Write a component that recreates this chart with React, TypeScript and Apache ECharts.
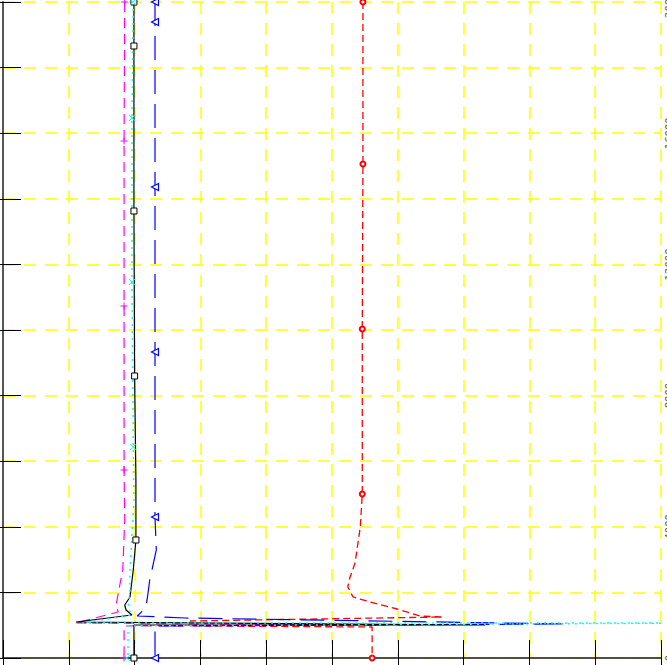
import React, { useEffect, useRef } from "react";
import * as echarts from "echarts";

// Axis ranges (grid units on x, height on y)
const X_MIN = 0;
const X_MAX = 10;
const X_STEP = 1;
const Y_MIN = 0;
const Y_MAX = 20000;
const Y_STEP = 2000;
const Y_LABEL_STEP = 4000;

// Black solid, square markers
const blackX = [1.99, 1.99, 1.99, 2.0, 2.02, 2.02, 1.98, 1.93, 1.85, 1.87, 1.96, 1.11, 7.33, 1.99, 1.99];
const blackY = [20000, 18659, 13628, 8598, 5427, 3598, 2683, 1860, 1616, 1463, 1311, 1098, 1006, 1006, 0];
const blackMarks = [0, 1, 2, 3, 5, 14];

// Cyan dotted, x markers
const cyanX = [1.98, 1.96, 1.96, 1.98, 1.99, 1.93, 1.93, 1.9, 1.96, 1.2, 10.6, 1.9, 1.9, 1.88];
const cyanY = [20000, 16463, 11463, 6433, 4817, 2683, 2073, 1524, 1311, 1067, 1067, 976, 40, 0];
const cyanMarks = [0, 1, 2, 3, 13];

// Magenta dash, + markers
const magentaX = [1.85, 1.84, 1.84, 1.84, 1.85, 1.82, 1.76, 1.72, 1.75, 1.1, 5.7, 1.84, 1.84];
const magentaY = [20000, 15762, 10732, 5732, 4207, 2683, 2073, 1616, 1402, 1067, 1000, 976, 0];
const magentaMarks = [0, 1, 2, 3, 12];

// Blue long dash, triangle markers
const blueX = [2.31, 2.31, 2.31, 2.31, 2.31, 2.33, 2.23, 2.2, 2.17, 2.04, 2.77, 8.54, 2.31, 2.31];
const blueY = [20000, 19390, 14360, 9329, 4299, 3293, 2378, 1921, 1524, 1280, 1220, 1037, 976, 0];
const blueMarks = [0, 1, 2, 3, 4, 13];

// Red dashed, circle markers
const redX = [5.47, 5.47, 5.46, 5.46, 5.43, 5.35, 5.27, 5.24, 5.32, 5.58, 5.99, 6.34, 6.67, 2.84, 2.99, 5.61, 5.61];
const redY = [20000, 15061, 10030, 5000, 3994, 2896, 2439, 2165, 1860, 1707, 1494, 1280, 1250, 1128, 976, 945, 0];
const redMarks = [0, 1, 2, 3, 16];

function buildData(xs: number[], ys: number[], marks: number[]) {
  return xs.map((x, i) =>
    marks.indexOf(i) >= 0 ? { value: [x, ys[i]] } : { value: [x, ys[i]], symbol: "none" }
  );
}

const tickStyle = { show: true, inside: true, length: 18, lineStyle: { color: "#000", width: 1 } };

export default function App() {
  const ref = useRef<HTMLDivElement>(null);
  useEffect(() => {
    if (!ref.current) return;
    const chart = echarts.init(ref.current, undefined, { renderer: "svg" });
    const gridLine = { show: true, lineStyle: { color: "#ffff00", type: [12, 9], width: 1.5 } };
    chart.setOption({
      animation: false,
      backgroundColor: "#ffffff",
      grid: { left: 3, top: 2, width: 658, height: 656, containLabel: false, outerBoundsMode: "none" },
      xAxis: [
        {
          type: "value", min: X_MIN, max: X_MAX, interval: X_STEP, position: "bottom",
          axisLine: { show: true, lineStyle: { color: "#000", width: 1.5 } },
          axisTick: tickStyle, axisLabel: { show: false }, splitLine: gridLine,
        },
        {
          type: "value", min: X_MIN, max: X_MAX, interval: X_STEP, position: "top",
          axisLine: { show: true, lineStyle: { color: "#555", width: 1.5 } },
          axisTick: tickStyle, axisLabel: { show: false }, splitLine: { show: false },
        },
      ],
      yAxis: [
        {
          type: "value", min: Y_MIN, max: Y_MAX, interval: Y_STEP, position: "left",
          axisLine: { show: true, lineStyle: { color: "#555", width: 1.5 } },
          axisTick: tickStyle, axisLabel: { show: false }, splitLine: gridLine,
        },
        {
          type: "value", min: Y_MIN, max: Y_MAX, interval: Y_STEP, position: "right",
          axisLine: { show: true, lineStyle: { color: "#555", width: 2 } },
          axisTick: tickStyle,
          axisLabel: {
            show: true, rotate: 90, margin: 3, fontSize: 10, color: "#555",
            fontFamily: "DejaVu Sans",
            formatter: (v: number) => (v % Y_LABEL_STEP === 0 ? String(v) : ""),
          },
          splitLine: { show: false },
        },
      ],
      series: [
        {
          type: "line", name: "red", data: buildData(redX, redY, redMarks),
          symbol: "emptyCircle", symbolSize: 5,
          lineStyle: { color: "#ff0000", width: 1.3, type: [7, 4] },
          itemStyle: { color: "#ff0000", borderColor: "#ff0000", borderWidth: 1.5 },
        },
        {
          type: "line", name: "magenta", data: buildData(magentaX, magentaY, magentaMarks),
          symbol: "path://M5,0L5,10M0,5L10,5", symbolSize: 7, symbolKeepAspect: true,
          lineStyle: { color: "#ff00ff", width: 1.2, type: [10, 6] },
          itemStyle: { color: "#ff00ff", borderColor: "#ff00ff", borderWidth: 1 },
        },
        {
          type: "line", name: "blue", data: buildData(blueX, blueY, blueMarks),
          symbol: "path://M10,0L0,5L10,10Z", symbolSize: 7, symbolKeepAspect: true,
          lineStyle: { color: "#0000ff", width: 1.2, type: [24, 10] },
          itemStyle: { color: "#ffffff", borderColor: "#0000ff", borderWidth: 1.2 },
        },
        {
          type: "line", name: "black", data: buildData(blackX, blackY, blackMarks),
          symbol: "rect", symbolSize: 6,
          lineStyle: { color: "#000000", width: 1.2 },
          itemStyle: { color: "#ffffff", borderColor: "#000000", borderWidth: 1 },
        },
        {
          type: "line", name: "cyan", data: buildData(cyanX, cyanY, cyanMarks),
          symbol: "path://M0,0L10,10M10,0L0,10", symbolSize: 6, symbolKeepAspect: true,
          lineStyle: { color: "#00ffff", width: 1.5, type: [2, 5] },
          itemStyle: { color: "#00ffff", borderColor: "#00ffff", borderWidth: 1 },
        },
      ],
    });
    return () => chart.dispose();
  }, []);
  return (
    <div
      ref={ref}
      style={{ position: "fixed", left: 0, top: 0, width: 667, height: 665, background: "#fff" }}
    />
  );
}
